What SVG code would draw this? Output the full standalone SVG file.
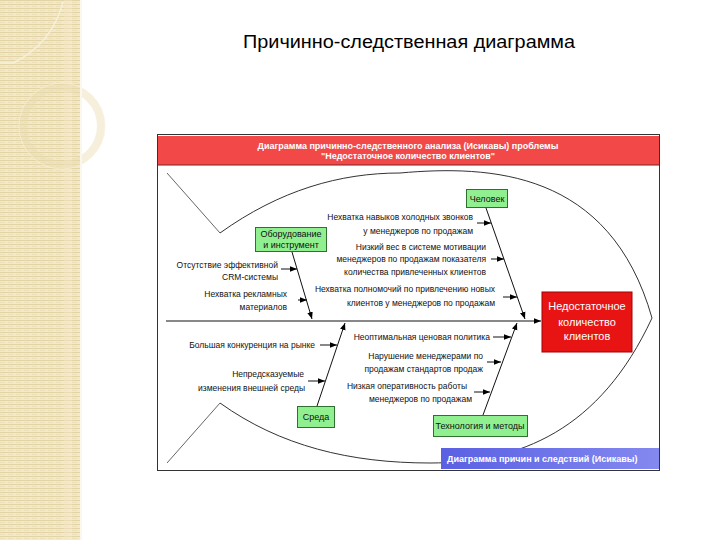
<svg xmlns="http://www.w3.org/2000/svg" width="720" height="540" viewBox="0 0 720 540">
<defs>
<pattern id="stripes" width="8" height="4" patternUnits="userSpaceOnUse">
<rect width="8" height="4" fill="#f3e9ca"/>
<rect y="0" width="8" height="1" fill="#e3d4a6"/>
<rect x="0" y="2" width="5" height="1" fill="#ece0bb"/>
</pattern>
<linearGradient id="blue" x1="0" y1="0" x2="1" y2="0">
<stop offset="0" stop-color="#5a60e2"/>
<stop offset="1" stop-color="#8489f0"/>
</linearGradient>
<marker id="ah" viewBox="0 0 10 10" refX="10" refY="5" markerWidth="7" markerHeight="7" markerUnits="userSpaceOnUse" orient="auto">
<path d="M0,1 L10,5 L0,9 z" fill="#000"/>
</marker>
<style>
.t{font-family:"Liberation Sans",Arial,sans-serif;font-size:8.5px;fill:#111;text-anchor:end}
.g{font-family:"Liberation Sans",Arial,sans-serif;font-size:9px;fill:#111;text-anchor:middle}
.box{fill:#90f090;stroke:#2f6f2f;stroke-width:1}
.bone{stroke:#111;stroke-width:1;fill:none;marker-end:url(#ah)}
.fish{stroke:#333;stroke-width:1;fill:none}
.tail{stroke:#666;stroke-width:1;fill:none}
</style>
</defs>
<rect width="720" height="540" fill="#fff"/>
<g id="decor">
<rect x="0" y="0" width="80" height="540" fill="url(#stripes)"/>
<rect x="64" y="0" width="8" height="540" fill="#f8f0d8" opacity="0.3"/>
<path d="M63,2 Q52,44 13,63 L0,63" fill="none" stroke="#f8f2e0" stroke-width="1.5" opacity="0.8"/>
<circle cx="62" cy="126" r="39" fill="none" stroke="#e9dcaf" stroke-width="8" opacity="0.45"/>
<circle cx="62" cy="126" r="43" fill="none" stroke="#f8f1dc" stroke-width="1" opacity="0.6"/>
<rect x="80" y="0" width="2" height="540" fill="#fbf7ec"/>
</g>
<text x="409" y="48" font-family="'Liberation Sans',Arial,sans-serif" font-size="17.5" fill="#000" text-anchor="middle" textLength="332" lengthAdjust="spacingAndGlyphs">Причинно-следственная диаграмма</text>
<g id="frame">
<rect x="157.5" y="134.5" width="502" height="336" fill="#fff" stroke="#333" stroke-width="1"/>
<rect x="158" y="136" width="501" height="29" fill="#f24848"/>
<line x1="158" y1="165" x2="659" y2="165" stroke="#7a2020" stroke-width="1"/>
<text x="408" y="148.5" font-family="'Liberation Sans',Arial,sans-serif" font-size="9" font-weight="bold" fill="#fff" text-anchor="middle">Диаграмма причинно-следственного анализа (Исикавы) проблемы</text>
<text x="408" y="159" font-family="'Liberation Sans',Arial,sans-serif" font-size="9" font-weight="bold" fill="#fff" text-anchor="middle">"Недостаточное количество клиентов"</text>
</g>
<g id="fish-outline">
<path class="tail" d="M167,173 L220,233"/>
<path class="tail" d="M220,403 L167,463"/>
<path class="fish" d="M220,233 C280,190 340,173 400,173 C490,165 610,170 652,318"/>
<path class="fish" d="M220,403 C280,446 350,463 430,463 C520,463 600,430 652,318"/>
</g>
<g id="connectors">
<line class="bone" x1="166" y1="321" x2="541" y2="321"/>
<line class="bone" x1="292" y1="252" x2="312" y2="319"/>
<line class="bone" x1="486" y1="208" x2="525" y2="319"/>
<line class="bone" x1="317" y1="406" x2="345" y2="323"/>
<line class="bone" x1="483" y1="415" x2="517" y2="323"/>
<line class="bone" x1="281" y1="269" x2="297" y2="269"/>
<line class="bone" x1="298" y1="300" x2="307" y2="300"/>
<line class="bone" x1="477" y1="223" x2="491" y2="223"/>
<line class="bone" x1="491" y1="259" x2="504" y2="259"/>
<line class="bone" x1="503" y1="297" x2="517" y2="297"/>
<line class="bone" x1="320" y1="345" x2="337" y2="345"/>
<line class="bone" x1="308" y1="381" x2="325" y2="381"/>
<line class="bone" x1="493" y1="337" x2="511" y2="337"/>
<line class="bone" x1="487" y1="362" x2="501" y2="362"/>
<line class="bone" x1="474" y1="392" x2="490" y2="392"/>
</g>
<g id="effect">
<rect x="542" y="292" width="90" height="60" fill="#e81414" stroke="#a00000" stroke-width="1"/>
<text x="587" y="309.5" font-family="'Liberation Sans',Arial,sans-serif" font-size="11" fill="#fff" text-anchor="middle">Недостаточное</text>
<text x="587" y="325.5" font-family="'Liberation Sans',Arial,sans-serif" font-size="11" fill="#fff" text-anchor="middle">количество</text>
<text x="587" y="340" font-family="'Liberation Sans',Arial,sans-serif" font-size="11" fill="#fff" text-anchor="middle">клиентов</text>
</g>
<g id="cat-chelovek">
<rect class="box" x="466.5" y="189.5" width="41" height="18"/>
<text class="g" x="487" y="201.5">Человек</text>
</g>
<g id="cat-oborudovanie">
<rect class="box" x="255.5" y="227.5" width="71" height="24"/>
<text class="g" x="291" y="237">Оборудование</text>
<text class="g" x="291" y="248">и инструмент</text>
</g>
<g id="cat-sreda">
<rect class="box" x="297.5" y="406.5" width="37" height="21"/>
<text class="g" x="316" y="420">Среда</text>
</g>
<g id="cat-tehnologia">
<rect class="box" x="433.5" y="415.5" width="94" height="21"/>
<text class="g" x="480" y="429">Технология и методы</text>
</g>
<g id="cause-crm">
<text class="t" x="278" y="268">Отсутствие эффективной</text>
<text class="t" x="278" y="280">CRM-системы</text>
</g>
<g id="cause-reklama">
<text class="t" x="287" y="297">Нехватка рекламных</text>
<text class="t" x="287" y="310">материалов</text>
</g>
<g id="cause-navyki">
<text class="t" x="473" y="220">Нехватка навыков холодных звонков</text>
<text class="t" x="473" y="234">у менеджеров по продажам</text>
</g>
<g id="cause-motivacia">
<text class="t" x="486" y="250">Низкий вес в системе мотивации</text>
<text class="t" x="486" y="262">менеджеров по продажам показателя</text>
<text class="t" x="486" y="275">количества привлеченных клиентов</text>
</g>
<g id="cause-polnomochia">
<text class="t" x="495" y="292">Нехватка полномочий по привлечению новых</text>
<text class="t" x="495" y="306">клиентов у менеджеров по продажам</text>
</g>
<g id="cause-konkurencia">
<text class="t" x="315" y="348">Большая конкуренция на рынке</text>
</g>
<g id="cause-sreda">
<text class="t" x="304" y="377">Непредсказуемые</text>
<text class="t" x="305" y="391">изменения внешней среды</text>
</g>
<g id="cause-cena">
<text class="t" x="490" y="340">Неоптимальная ценовая политика</text>
</g>
<g id="cause-standarty">
<text class="t" x="483" y="359">Нарушение менеджерами по</text>
<text class="t" x="483" y="372">продажам стандартов продаж</text>
</g>
<g id="cause-operativnost">
<text class="t" x="467" y="389">Низкая оперативность работы</text>
<text class="t" x="472" y="402">менеджеров по продажам</text>
</g>
<g id="caption">
<rect x="441" y="448" width="218" height="21" fill="url(#blue)"/>
<text x="447" y="462" font-family="'Liberation Sans',Arial,sans-serif" font-size="9" font-weight="bold" fill="#fff">Диаграмма причин и следствий (Исикавы)</text>
</g>
</svg>
